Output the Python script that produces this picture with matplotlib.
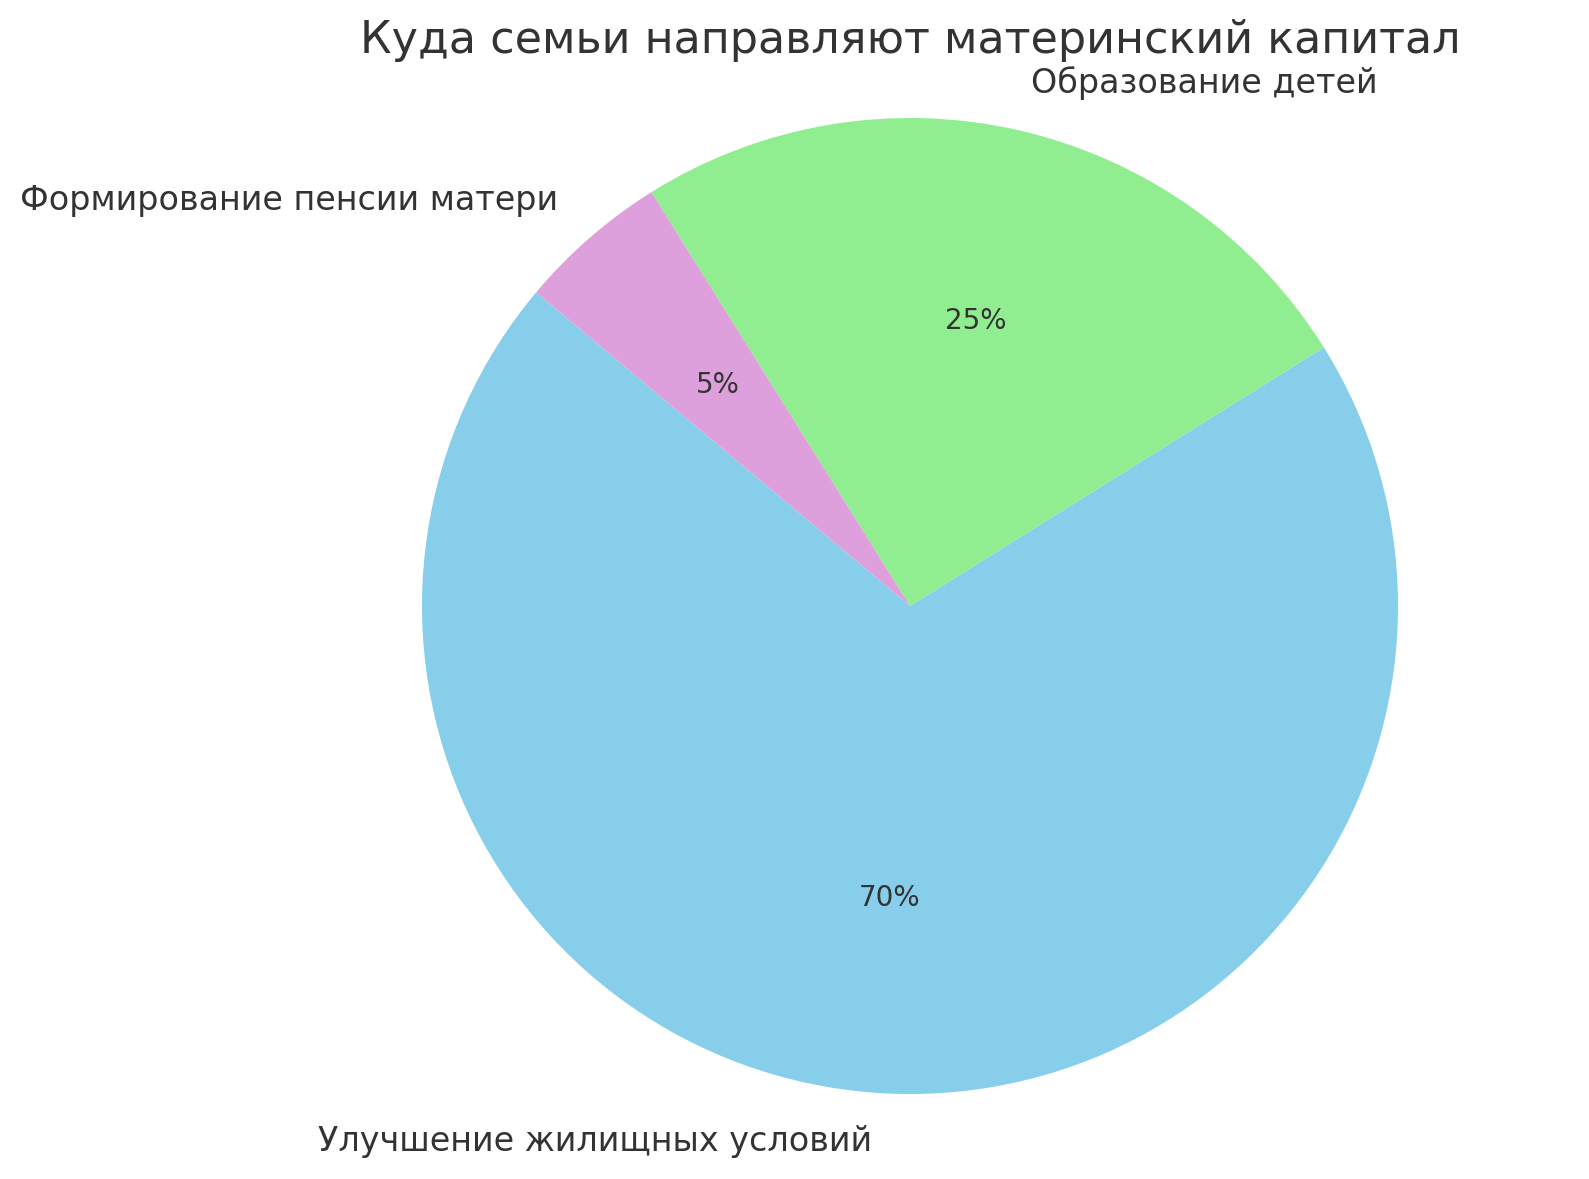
import matplotlib.pyplot as plt

# Data
categories = ['Улучшение жилищных условий', 'Образование детей', 'Формирование пенсии матери']
shares = [70, 25, 5]
colors = ['skyblue', 'lightgreen', 'plum']

plt.rcParams['font.family'] = ['DejaVu Sans']
plt.rcParams['text.color'] = '#333333'

W, H = 1589, 1179
fig = plt.figure(figsize=(W / 200, H / 200), dpi=200)

# pie centre and radius in pixels
cx, cy, r = 910, 606, 488
half = r * 1.25
ax = fig.add_axes([(cx - half) / W, (H - cy - half) / H, 2 * half / W, 2 * half / H])

ax.pie(shares, labels=categories, colors=colors, autopct='%1.0f%%',
       startangle=140, textprops={'fontsize': 12, 'color': '#333333'})
for t in ax.texts:
    if t.get_text().endswith('%'):
        t.set_fontsize(10)
ax.set_xlim(-1.25, 1.25)
ax.set_ylim(-1.25, 1.25)
ax.set_aspect('equal')

fig.text(cx / W, 1 - 41 / H, 'Куда семьи направляют материнский капитал',
         ha='center', va='center', fontsize=16, color='#333333')

fig.savefig('out.png', dpi=200)
